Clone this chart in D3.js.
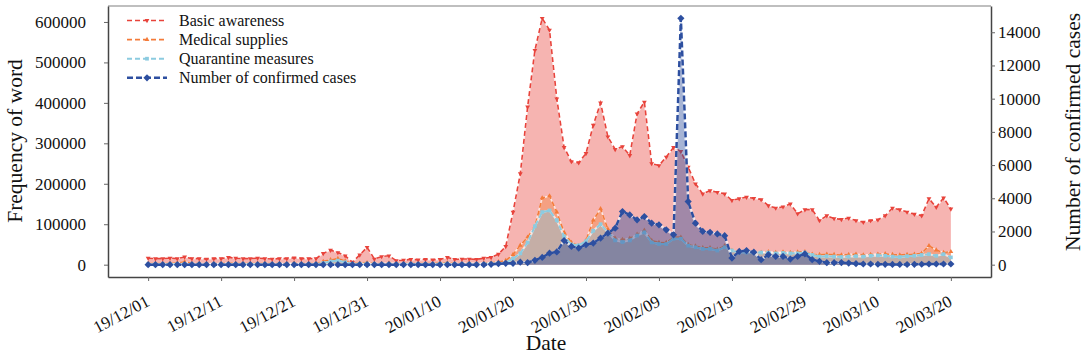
<!DOCTYPE html>
<html>
<head>
<meta charset="utf-8">
<script src="https://cdn.jsdelivr.net/npm/d3@7"></script>
<style>
  body { margin: 0; background: #fff; }
  svg text { font-family: "Liberation Serif", "Times New Roman", serif; fill: #111; }
</style>
</head>
<body>
<div id="container"></div>
<script>
// daily values, 2019-12-01 .. 2020-03-20 (111 days)
const basicAwareness = [
  16000, 15000, 15000, 16000, 15000, 19000, 15000, 15000, 14000, 15000,
  15000, 18000, 16000, 15000, 15000, 16000, 15000, 14000, 15000, 15000,
  17000, 15000, 15000, 15000, 28000, 36000, 30000, 22000, 6000, 24000,
  43000, 14000, 20000, 22000, 10000, 11000, 13000, 12000, 13000, 12000,
  13000, 18000, 13000, 14000, 14000, 13000, 16000, 18000, 26000, 45000,
  130000, 225000, 390000, 530000, 609000, 580000, 410000, 290000, 255000, 252000,
  275000, 345000, 400000, 316000, 285000, 292000, 270000, 373000, 402000, 250000,
  245000, 266000, 290000, 280000, 241000, 200000, 175000, 183000, 179000, 175000,
  159000, 163000, 167000, 164000, 161000, 146000, 140000, 143000, 150000, 126000,
  136000, 136000, 109000, 121000, 114000, 112000, 115000, 109000, 105000, 109000,
  111000, 121000, 140000, 136000, 130000, 125000, 121000, 163000, 142000, 165000,
  138000
];
const medicalSupplies = [
  3000, 3000, 3000, 3000, 4000, 7000, 3000, 3000, 3000, 3000,
  3000, 4000, 3000, 3000, 3000, 3000, 3000, 3000, 3000, 3000,
  4000, 3000, 3000, 3000, 8000, 12000, 15000, 9000, 3000, 4000,
  5000, 3000, 3000, 4000, 3000, 3000, 3000, 3000, 3000, 3000,
  4000, 5000, 3000, 3000, 4000, 3000, 4000, 5000, 7000, 10000,
  25000, 48000, 68000, 95000, 165000, 170000, 130000, 80000, 55000, 47000,
  60000, 110000, 138000, 88000, 65000, 62000, 65000, 75000, 85000, 60000,
  55000, 55000, 68000, 68000, 50000, 46000, 42000, 42000, 38000, 47000,
  35000, 32000, 31000, 31000, 30000, 32000, 30000, 31000, 30000, 31000,
  32000, 26000, 25000, 26000, 25000, 24000, 25000, 26000, 24000, 25000,
  26000, 27000, 25000, 24000, 25000, 26000, 28000, 47000, 36000, 30000,
  32000
];
const quarantineMeasures = [
  1000, 1000, 1000, 1000, 1500, 2000, 1000, 1000, 1000, 1000,
  1000, 1500, 1000, 1000, 1000, 1000, 1000, 1000, 1000, 1000,
  1500, 1000, 1000, 1000, 4000, 8000, 10000, 6000, 1500, 2000,
  2500, 1500, 1500, 2000, 1500, 1500, 1500, 1500, 1500, 1500,
  2000, 2500, 1500, 1500, 2000, 1500, 2000, 2500, 3500, 5000,
  15000, 28000, 55000, 95000, 130000, 134000, 110000, 70000, 50000, 48000,
  58000, 84000, 100000, 80000, 60000, 56000, 60000, 72000, 80000, 55000,
  51000, 51000, 64000, 64000, 47000, 43000, 39000, 39000, 35000, 43000,
  35000, 30000, 30000, 30000, 30000, 30000, 28000, 29000, 28000, 28000,
  30000, 24000, 20000, 21000, 20000, 19000, 20000, 21000, 20000, 22000,
  23000, 22000, 20000, 19000, 21000, 22000, 24000, 26000, 22000, 26000,
  18000
];
const confirmedCases = [
  0, 0, 0, 0, 0, 0, 0, 0, 0, 0,
  0, 0, 0, 0, 0, 0, 0, 0, 0, 0,
  0, 0, 0, 0, 0, 0, 0, 0, 0, 0,
  0, 0, 0, 0, 0, 0, 0, 0, 0, 0,
  0, 0, 0, 0, 0, 0, 0, 20, 60, 80,
  80, 150, 130, 260, 440, 690, 770, 1450, 1100, 1000,
  1200, 1300, 1600, 1900, 2200, 3200, 3000, 2700, 2900, 2500,
  2400, 2100, 1800, 14840, 3800, 2500, 2000, 1950, 1850, 1750,
  400, 800, 850, 750, 300, 600, 500, 500, 340, 500,
  650, 300, 200, 120, 120, 130, 100, 60, 40, 40,
  25, 20, 15, 15, 10, 20, 25, 40, 40, 40,
  40
];

const startDate = new Date(2019, 11, 1);
const dates = basicAwareness.map((_, i) => d3.timeDay.offset(startDate, i));
const tickDates = d3.range(0, 111, 10).map(k => d3.timeDay.offset(startDate, k));
const leftTicks = [0, 100000, 200000, 300000, 400000, 500000, 600000];
const rightTicks = [0, 2000, 4000, 6000, 8000, 10000, 12000, 14000];

const W = 1084, H = 355;
const plotL = 108, plotR = 991, plotT = 6, plotB = 277;
const serif = '"Liberation Serif", "Times New Roman", serif';

const svg = d3.select("#container").append("svg")
    .attr("width", W)
    .attr("height", H);

function pad(lo, hi) {
    let m = (hi - lo) * 0.05;
    return [lo - m, hi + m];
}

var x = d3.scaleTime()
    .domain(pad(+dates[0], +dates[dates.length - 1]))
    .range([plotL, plotR]);

var leftMax = d3.max([basicAwareness, medicalSupplies, quarantineMeasures], s => d3.max(s));
var yL = d3.scaleLinear().domain(pad(0, leftMax)).range([plotB, plotT]);
var yR = d3.scaleLinear().domain(pad(0, d3.max(confirmedCases))).range([plotB, plotT]);

const series = [
    { name: "Basic awareness", values: basicAwareness, y: yL, line: "#e8433b", fill: "#ee6a64", op: 0.5,
      sym: d3.symbolTriangle, size: 10, rot: 180, w: 1.6, dash: "5,3" },
    { name: "Medical supplies", values: medicalSupplies, y: yL, line: "#f47b3a", fill: "#f5813c", op: 0.4,
      sym: d3.symbolTriangle, size: 10, rot: 0, w: 1.6, dash: "5,3" },
    { name: "Quarantine measures", values: quarantineMeasures, y: yL, line: "#8ccbe0", fill: "#7ec4dc", op: 0.4,
      sym: d3.symbolSquare, size: 14, rot: 0, w: 2, dash: "5,3" },
    { name: "Number of confirmed cases", values: confirmedCases, y: yR, line: "#2d4fa0", fill: "#2b4c9b", op: 0.42,
      sym: d3.symbolSquare, size: 26, rot: 45, w: 2.5, dash: "6,3" }
];

var plot = svg.append("g");

series.forEach(function(s) {
    let g = plot.append("g");
    let pts = s.values.map((v, i) => [dates[i], v]);

    g.append("path")
        .datum(pts)
        .attr("fill", s.fill)
        .attr("fill-opacity", s.op)
        .attr("d", d3.area().x(d => x(d[0])).y0(s.y(0)).y1(d => s.y(d[1])));

    let ln = d3.line().x(d => x(d[0])).y(d => s.y(d[1]));

    g.append("path")
        .datum(pts)
        .attr("fill", "none")
        .attr("stroke", "#ffffff")
        .attr("stroke-opacity", 0.7)
        .attr("stroke-width", s.w)
        .attr("d", ln);

    g.append("path")
        .datum(pts)
        .attr("fill", "none")
        .attr("stroke", s.line)
        .attr("stroke-width", s.w)
        .attr("stroke-dasharray", s.dash)
        .attr("d", ln);

    g.selectAll("path.mk")
        .data(pts)
        .enter()
        .append("path")
        .attr("class", "mk")
        .attr("fill", s.line)
        .attr("d", d3.symbol().type(s.sym).size(s.size))
        .attr("transform", d => `translate(${x(d[0])},${s.y(d[1])}) rotate(${s.rot})`);
});

// frame
svg.append("line").attr("x1", plotL).attr("x2", plotR).attr("y1", plotT).attr("y2", plotT)
    .attr("stroke", "#aaaaaa").attr("stroke-width", 1.5);

var xAxis = svg.append("g")
    .attr("transform", `translate(0,${plotB})`)
    .call(d3.axisBottom(x).tickValues(tickDates).tickFormat(d3.timeFormat("%y/%m/%d")).tickSize(4).tickSizeOuter(0));

xAxis.selectAll("text")
    .attr("font-size", 17)
    .attr("text-anchor", "end")
    .attr("dy", null)
    .attr("y", null)
    .attr("transform", "translate(2,28) rotate(-28)");

var yAxisL = svg.append("g")
    .attr("transform", `translate(${plotL},0)`)
    .call(d3.axisLeft(yL).tickValues(leftTicks).tickFormat(d3.format("d")).tickSize(4).tickSizeOuter(0));
yAxisL.selectAll("text").attr("font-size", 17).attr("x", -22);

var yAxisR = svg.append("g")
    .attr("transform", `translate(${plotR},0)`)
    .call(d3.axisRight(yR).tickValues(rightTicks).tickFormat(d3.format("d")).tickSize(4).tickSizeOuter(0));
yAxisR.selectAll("text").attr("font-size", 17).attr("x", 7);

svg.selectAll(".tick text").attr("font-family", serif).attr("fill", "#111");
[xAxis, yAxisL, yAxisR].forEach(a => a.attr("font-family", serif));
svg.selectAll(".domain").attr("stroke", "#444").attr("stroke-width", 1.5);
svg.selectAll(".tick line").attr("stroke", "#666");

// axis titles
svg.append("text")
    .attr("transform", "translate(22,141) rotate(-90)")
    .attr("text-anchor", "middle")
    .attr("font-size", 21.5)
    .text("Frequency of word");

svg.append("text")
    .attr("transform", "translate(1080,132) rotate(-90)")
    .attr("text-anchor", "middle")
    .attr("font-size", 21.5)
    .text("Number of confirmed cases");

svg.append("text")
    .attr("x", 546)
    .attr("y", 350)
    .attr("text-anchor", "middle")
    .attr("font-size", 21.5)
    .text("Date");

// legend
var legend = svg.append("g");
series.forEach(function(s, i) {
    let yy = 20.5 + i * 19.1;
    let row = legend.append("g");
    row.append("line")
        .attr("x1", 127).attr("x2", 167)
        .attr("y1", yy).attr("y2", yy)
        .attr("stroke", s.line)
        .attr("stroke-width", s.w)
        .attr("stroke-dasharray", s.dash);
    row.append("path")
        .attr("fill", s.line)
        .attr("d", d3.symbol().type(s.sym).size(s.size))
        .attr("transform", `translate(147,${yy}) rotate(${s.rot})`);
    row.append("text")
        .attr("x", 179)
        .attr("y", yy)
        .attr("dy", "0.33em")
        .attr("font-size", 16)
        .text(s.name);
});
</script>
</body>
</html>
